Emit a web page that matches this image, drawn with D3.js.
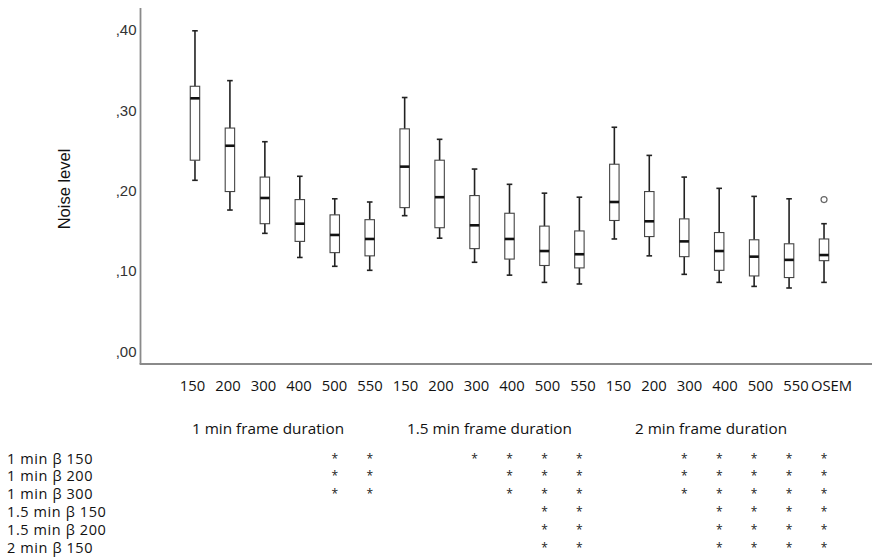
<!DOCTYPE html>
<html>
<head>
<meta charset="utf-8">
<script src="https://cdn.jsdelivr.net/npm/d3@7"></script>
<style>
  html, body { margin: 0; padding: 0; background: #fff; }
  svg { display: block; }
</style>
</head>
<body>
<svg id="chart" width="872" height="559"></svg>
<script>
// ---------- data ----------
const categories = ["150","200","300","400","500","550","150","200","300","400","500","550","150","200","300","400","500","550","OSEM"];
const whiskerHigh = [0.399,0.337,0.261,0.218,0.190,0.186,0.316,0.264,0.227,0.208,0.197,0.192,0.279,0.244,0.217,0.203,0.193,0.190,0.159];
const q3Values    = [0.330,0.278,0.217,0.189,0.170,0.164,0.277,0.238,0.194,0.172,0.156,0.150,0.233,0.199,0.165,0.148,0.139,0.134,0.140];
const medians     = [0.315,0.256,0.191,0.159,0.145,0.140,0.230,0.192,0.157,0.140,0.125,0.121,0.186,0.162,0.137,0.125,0.118,0.114,0.120];
const q1Values    = [0.238,0.199,0.159,0.137,0.123,0.119,0.179,0.154,0.128,0.115,0.107,0.104,0.163,0.143,0.118,0.101,0.094,0.092,0.113];
const whiskerLow  = [0.213,0.176,0.147,0.117,0.106,0.101,0.169,0.141,0.111,0.095,0.086,0.084,0.140,0.119,0.096,0.086,0.081,0.079,0.086];
const outliers    = [{cat: 18, value: 0.189}];
const yTicks = [0, 0.1, 0.2, 0.3, 0.4];
const yTitle = "Noise level";
const groupLabels = ["1 min frame duration", "1.5 min frame duration", "2 min frame duration"];
const rowLabels = ["1 min β 150", "1 min β 200", "1 min β 300", "1.5 min β 150", "1.5 min β 200", "2 min β 150"];
// significance marks: for each row, the category indices marked with "*"
const significance = [
  [4,5,8,9,10,11,14,15,16,17,18],
  [4,5,9,10,11,14,15,16,17,18],
  [4,5,9,10,11,14,15,16,17,18],
  [10,11,15,16,17,18],
  [10,11,15,16,17,18],
  [10,11,15,16,17,18]
];

// ---------- layout ----------
const svg = d3.select("#chart");
const idx = d3.range(categories.length);
const tableFont = "'Open Sans', sans-serif";

const x = d3.scaleBand().domain(idx).range([177.5, 841.5]).paddingInner(0.73).paddingOuter(0.365);
const xLabel = d3.scalePoint().domain(idx).range([192, 831]);
const y = d3.scaleLinear().domain([0, 0.4]).range([351.5, 30]);

const axisLeftX = 140.5, axisBottomY = 364;
const axisColor = "#8a8a8a";

// axes lines
svg.append("line").attr("x1", axisLeftX).attr("x2", axisLeftX).attr("y1", 8).attr("y2", axisBottomY)
  .attr("stroke", axisColor).attr("stroke-width", 1.8);
svg.append("line").attr("x1", axisLeftX - 0.9).attr("x2", 872).attr("y1", axisBottomY).attr("y2", axisBottomY)
  .attr("stroke", axisColor).attr("stroke-width", 1.8);

// y tick labels via d3 axis (no tick marks)
const yAxis = d3.axisLeft(y).tickValues(yTicks).tickSize(0).tickPadding(0)
  .tickFormat(d => "," + d3.format(".2f")(d).split(".")[1]);
const gy = svg.append("g").attr("transform", `translate(${axisLeftX - 4},0)`).call(yAxis);
gy.select(".domain").remove();
gy.selectAll("text").attr("font-family", "Liberation Sans, Arial, sans-serif").attr("font-size", 15).attr("fill", "#333");

// y title
svg.append("text").attr("transform", `translate(69.5,189) rotate(-90)`)
  .attr("text-anchor", "middle").attr("font-family", "Liberation Sans, Arial, sans-serif")
  .attr("font-size", 16.5).attr("fill", "#111").text(yTitle);

// x labels via axis
const xAxis = d3.axisBottom(xLabel).tickSize(0).tickPadding(0).tickFormat(i => categories[i]);
const gx = svg.append("g").attr("transform", `translate(0,380)`).call(xAxis);
gx.select(".domain").remove();
gx.selectAll("text").attr("font-family", tableFont).attr("font-size", 14.8).attr("fill", "#111").attr("dy", "0.71em");

// boxes
const bw = x.bandwidth();
const g = svg.append("g");
idx.forEach(i => {
  const cx = x(i) + bw / 2;
  const gi = g.append("g");
  gi.append("line").attr("x1", cx).attr("x2", cx).attr("y1", y(whiskerHigh[i])).attr("y2", y(q3Values[i]))
    .attr("stroke", "#222").attr("stroke-width", 1.6);
  gi.append("line").attr("x1", cx).attr("x2", cx).attr("y1", y(q1Values[i])).attr("y2", y(whiskerLow[i]))
    .attr("stroke", "#222").attr("stroke-width", 1.6);
  [whiskerHigh[i], whiskerLow[i]].forEach(v => {
    gi.append("line").attr("x1", cx - 2.8).attr("x2", cx + 2.8).attr("y1", y(v)).attr("y2", y(v))
      .attr("stroke", "#222").attr("stroke-width", 1.6);
  });
  gi.append("rect").attr("x", x(i)).attr("width", bw)
    .attr("y", y(q3Values[i])).attr("height", y(q1Values[i]) - y(q3Values[i]))
    .attr("fill", "#fff").attr("stroke", "#444").attr("stroke-width", 1.1);
  gi.append("line").attr("x1", x(i)).attr("x2", x(i) + bw).attr("y1", y(medians[i])).attr("y2", y(medians[i]))
    .attr("stroke", "#111").attr("stroke-width", 2.6);
});

// outliers
g.selectAll("circle.outlier").data(outliers).join("circle").attr("class", "outlier")
  .attr("cx", d => x(d.cat) + bw / 2).attr("cy", d => y(d.value)).attr("r", 3)
  .attr("fill", "#fff").attr("stroke", "#666").attr("stroke-width", 1.2);

// group labels
const gxScale = d3.scalePoint().domain(groupLabels).range([268, 711]);
svg.selectAll("text.group").data(groupLabels).join("text").attr("class", "group")
  .attr("x", d => gxScale(d)).attr("y", 434).attr("text-anchor", "middle")
  .attr("font-family", tableFont).attr("font-size", 15.3).attr("fill", "#111").text(d => d);

// row labels
const rowY = d3.scalePoint().domain(d3.range(rowLabels.length)).range([463.5, 553]);
svg.selectAll("text.row").data(rowLabels).join("text").attr("class", "row")
  .attr("x", 7).attr("y", (d, r) => rowY(r))
  .attr("font-family", tableFont).attr("font-size", 14.5).attr("letter-spacing", 0.6)
  .attr("fill", "#111").text(d => d);

// significance asterisks
const marks = significance.flatMap((cols, r) => cols.map(c => ({r, c})));
svg.selectAll("text.sig").data(marks).join("text").attr("class", "sig")
  .attr("x", d => x(d.c) + bw / 2).attr("y", d => rowY(d.r) - 1).attr("text-anchor", "middle")
  .attr("font-family", tableFont).attr("font-size", 12).attr("fill", "#222").text("*");
</script>
</body>
</html>
